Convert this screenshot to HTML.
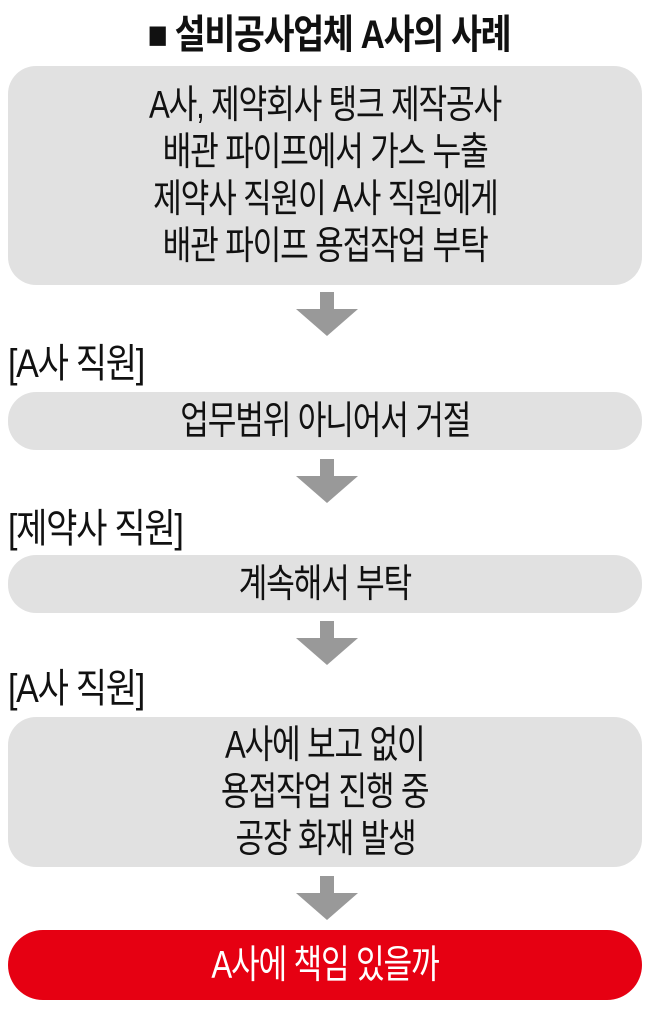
<!DOCTYPE html>
<html><head><meta charset="utf-8"><style>
body{margin:0;width:658px;height:1019px;background:#fff;position:relative;overflow:hidden;font-family:"Liberation Sans","Noto Sans CJK KR",sans-serif;color:#111}
.box{position:absolute;left:8px;width:634px;background:#e1e1e1;border-radius:28px;display:flex;flex-direction:column;align-items:center;justify-content:center}
.t{font-size:39px;line-height:47px;transform:scaleX(0.8);white-space:nowrap;letter-spacing:-1.5px}
.lbl{position:absolute;left:8px;font-size:40px;line-height:46px;transform:scaleX(0.85);transform-origin:left;white-space:nowrap;letter-spacing:-1.5px}
.arr{position:absolute;left:296px;width:62px;height:44px}
</style></head><body>
<div style="position:absolute;top:12px;left:0;width:658px;text-align:center"><span class="t" style="display:inline-block;font-size:40px;font-weight:bold;line-height:46px;transform:scaleX(0.84)">■ 설비공사업체 A사의 사례</span></div>
<div class="box" style="top:66px;height:219px">
<div class="t">A사, 제약회사 탱크 제작공사</div>
<div class="t">배관 파이프에서 가스 누출</div>
<div class="t">제약사 직원이 A사 직원에게</div>
<div class="t">배관 파이프 용접작업 부탁</div>
</div>
<svg class="arr" style="top:292px" viewBox="0 0 62 44"><rect x="24" y="0" width="14" height="20" fill="#999"/><polygon points="0,17 62,17 31,44" fill="#999"/></svg>
<div class="lbl" style="top:341px">[A사 직원]</div>
<div class="box" style="top:392px;height:58px"><div class="t">업무범위 아니어서 거절</div></div>
<svg class="arr" style="top:459px" viewBox="0 0 62 44"><rect x="24" y="0" width="14" height="20" fill="#999"/><polygon points="0,17 62,17 31,44" fill="#999"/></svg>
<div class="lbl" style="top:506px">[제약사 직원]</div>
<div class="box" style="top:555px;height:58px"><div class="t">계속해서 부탁</div></div>
<svg class="arr" style="top:621px" viewBox="0 0 62 44"><rect x="24" y="0" width="14" height="20" fill="#999"/><polygon points="0,17 62,17 31,44" fill="#999"/></svg>
<div class="lbl" style="top:666px">[A사 직원]</div>
<div class="box" style="top:717px;height:150px">
<div class="t">A사에 보고 없이</div>
<div class="t">용접작업 진행 중</div>
<div class="t">공장 화재 발생</div>
</div>
<svg class="arr" style="top:876px" viewBox="0 0 62 44"><rect x="24" y="0" width="14" height="20" fill="#999"/><polygon points="0,17 62,17 31,44" fill="#999"/></svg>
<div class="box" style="top:930px;height:70px;background:#e60012;border-radius:35px"><div class="t" style="color:#fff">A사에 책임 있을까</div></div>
</body></html>
